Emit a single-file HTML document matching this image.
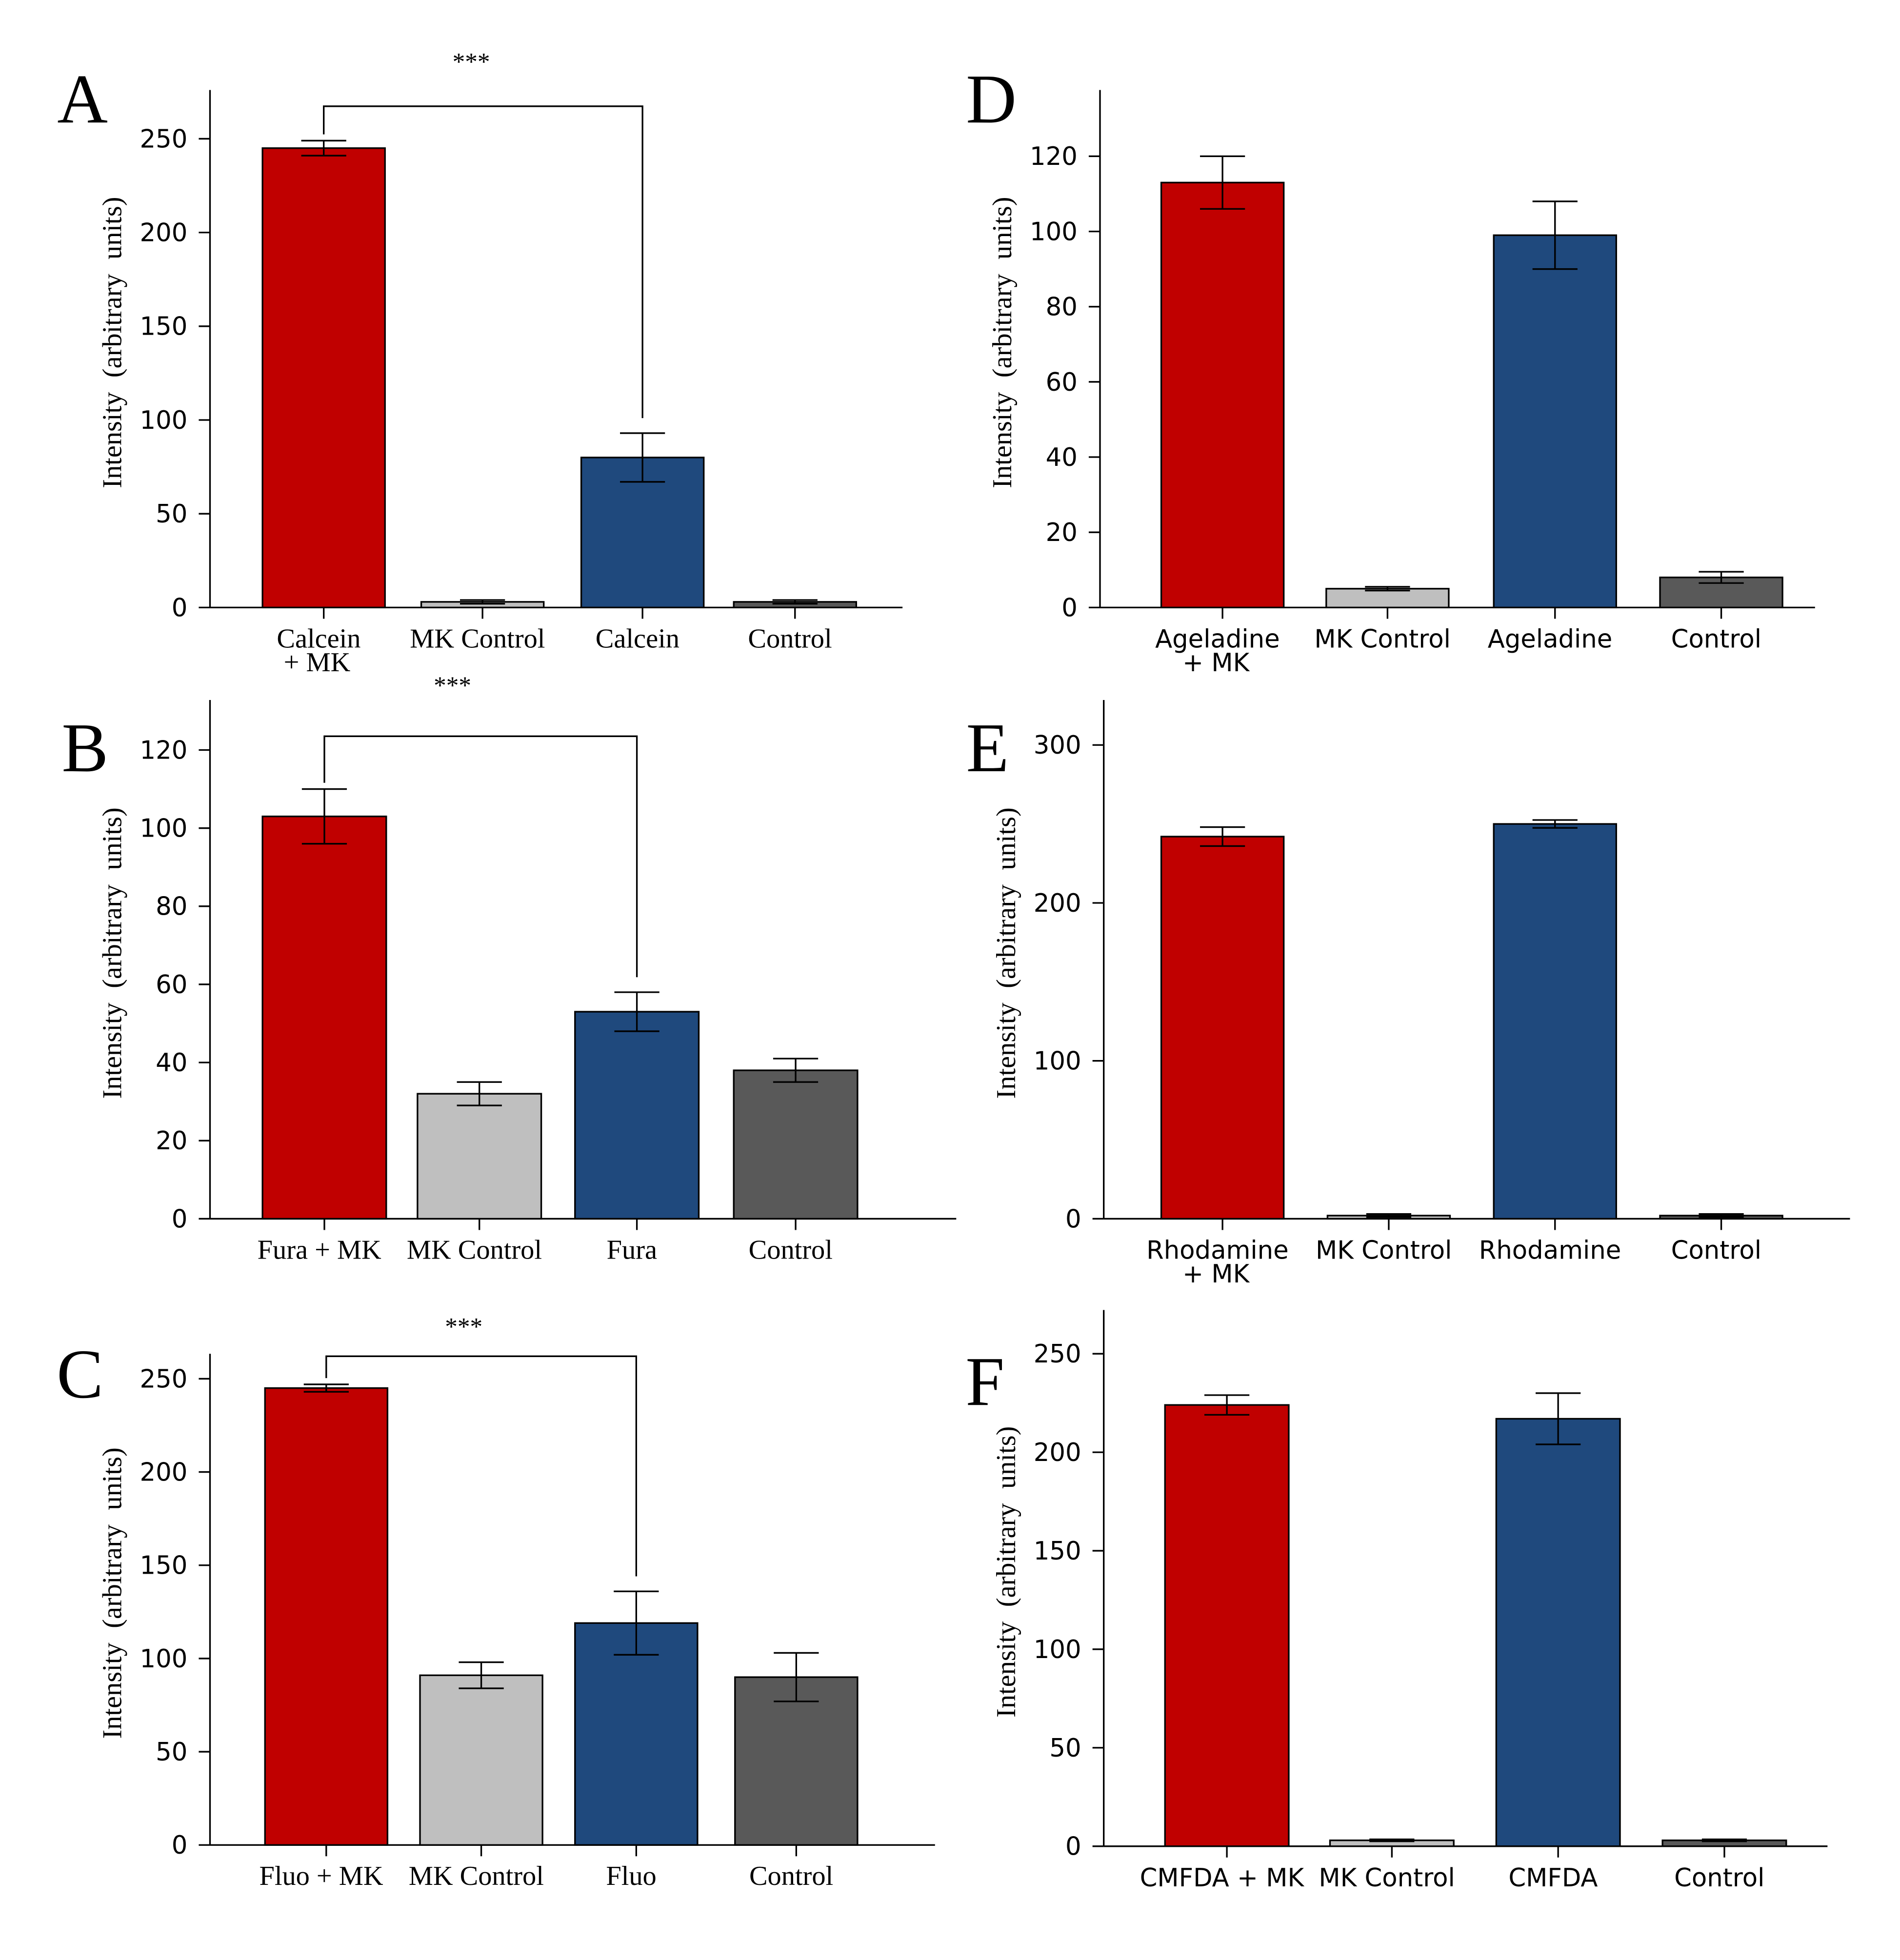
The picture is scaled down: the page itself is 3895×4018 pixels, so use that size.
<!DOCTYPE html>
<html><head><meta charset="utf-8"><style>
html,body{margin:0;padding:0;background:#fff}
svg{display:block}
</style></head><body>
<svg id="fig" width="3895" height="4018" viewBox="0 0 1520 1568" xmlns="http://www.w3.org/2000/svg"></svg>
<script>
// ---- data ----
const catsA = ["Calcein|+ MK","MK Control","Calcein","Control"];
const valsA = [245, 3, 80, 3];
const errA = [4, 1, 13, 1];
const ticksA = [0,50,100,150,200,250];

const catsB = ["Fura + MK","MK Control","Fura","Control"];
const valsB = [103, 32, 53, 38];
const errB = [7, 3, 5, 3];
const ticksB = [0,20,40,60,80,100,120];

const catsC = ["Fluo + MK","MK Control","Fluo","Control"];
const valsC = [245, 91, 119, 90];
const errC = [2, 7, 17, 13];
const ticksC = [0,50,100,150,200,250];

const catsD = ["Ageladine|+ MK","MK Control","Ageladine","Control"];
const valsD = [113, 5, 99, 8];
const errD = [7, 0.5, 9, 1.5];
const ticksD = [0,20,40,60,80,100,120];

const catsE = ["Rhodamine|+ MK","MK Control","Rhodamine","Control"];
const valsE = [242, 2, 250, 2];
const errE = [6, 1, 2.5, 1];
const ticksE = [0,100,200,300];

const catsF = ["CMFDA + MK","MK Control","CMFDA","Control"];
const valsF = [224, 3, 217, 3];
const errF = [5, 0.5, 13, 0.5];
const ticksF = [0,50,100,150,200,250];

const colors = ["#c00000","#bfbfbf","#1f497d","#595959"];
const NS = "http://www.w3.org/2000/svg";
const svg = document.getElementById('fig');

function mk(tag, attrs, parent){
  const e = document.createElementNS(NS, tag);
  for (const k in attrs) e.setAttribute(k, attrs[k]);
  (parent||svg).appendChild(e);
  return e;
}

function panel(p){
  const g = mk('g', {});
  
  
  const y = v => p.y0 - v * (p.y0 - p.yTop) / p.tTop;
  const font = p.serif ? '"Liberation Serif", serif' : '"DejaVu Sans", "Liberation Sans", sans-serif';
  const fsize = p.serif ? 22 : 20;
  const ya = mk('line', {x1:p.ax, y1:p.axTop, x2:p.ax, y2:p.y0, stroke:'#000','stroke-width':1.3}, g);
  
  
  const xa = mk('line', {x1:p.ax, y1:p.y0, x2:p.axRight, y2:p.y0, stroke:'#000','stroke-width':1.3}, g);
  
  
  p.ticks.forEach(t => {
    mk('line', {x1:p.ax-9, y1:y(t), x2:p.ax, y2:y(t), stroke:'#000','stroke-width':1.3}, g);
    const tx = mk('text', {x:p.ax-18, y:y(t)+7, 'text-anchor':'end', 'font-size':20, 'font-family':'"DejaVu Sans","Liberation Sans",sans-serif', fill:'#000'}, g);
    tx.textContent = t;
    
    
  });
  const yl = mk('text', {x:0, y:0, transform:`translate(${p.ax-71},${(p.axTop+p.y0)/2-5}) rotate(-90)`, 'text-anchor':'middle', 'font-size':22, 'word-spacing':6, 'font-family':'"Liberation Serif",serif', fill:'#000', 'xml:space':'preserve'}, g);
  yl.textContent = 'Intensity (arbitrary units)';
  
  
  const lt = mk('text', {x:p.lx, y:p.ly, 'text-anchor':'middle', 'font-size':56, 'font-family':'"Liberation Serif",serif', fill:'#000'}, g);
  lt.textContent = p.letter;
  
  
  const centers = [];
  p.cats.forEach((c,i) => {
    const x = p.barX[i], w = p.barW;
    const cx = x + w/2; centers.push(cx);
    const v = p.vals[i];
    const r = mk('rect', {x:x, y:y(v), width:w, height:p.y0-y(v), fill:colors[i], stroke:'#000','stroke-width':1.3}, g);
    
    
    const e = p.errs[i];
    const eg = mk('g', {stroke:'#000','stroke-width':1.3}, g);
    
    
    mk('line', {x1:cx, y1:y(v+e), x2:cx, y2:y(v-e)}, eg);
    mk('line', {x1:cx-18, y1:y(v+e), x2:cx+18, y2:y(v+e)}, eg);
    mk('line', {x1:cx-18, y1:y(v-e), x2:cx+18, y2:y(v-e)}, eg);
    mk('line', {x1:cx, y1:p.y0, x2:cx, y2:p.y0+9, stroke:'#000','stroke-width':1.3}, g);
    const parts = c.split('|');
    parts.forEach((pt,j) => {
      const t = mk('text', {x:j? cx-32 : cx-4, y:p.y0+32+j*19, 'text-anchor':j?'start':'middle', 'font-size':fsize, 'font-family':font, fill:'#000', 'xml:space':'preserve'}, g);
      t.textContent = pt;
      
      
    });
  });
  if (p.bracket) {
    const b = p.bracket;
    const x0 = centers[0], x1 = centers[2];
    const bg = mk('path', {d:`M${x0},${y(p.vals[0]+p.errs[0])-5} V${b.y} H${x1} V${y(p.vals[2]+p.errs[2])-12}`, fill:'none', stroke:'#000','stroke-width':1.3}, g);
    
    
    const st = mk('text', {x:b.sx, y:b.sy, 'text-anchor':'middle', 'font-size':20, 'font-family':'"Liberation Serif",serif', fill:'#000'}, g);
    st.textContent = '***';
    
    
  }
}

panel({letter:'A', cats:catsA, vals:valsA, errs:errA, ticks:ticksA, serif:true,
  ax:168, axTop:72, y0:486, yTop:111, tTop:250, axRight:722, barX:[210,337,465,587], barW:98,
  lx:66, ly:98, bracket:{y:85, sx:377, sy:56}});
panel({letter:'B', cats:catsB, vals:valsB, errs:errB, ticks:ticksB, serif:true,
  ax:168, axTop:560, y0:975, yTop:600, tTop:120, axRight:765, barX:[210,334,460,587], barW:99,
  lx:68, ly:617, bracket:{y:589, sx:362, sy:555}});
panel({letter:'C', cats:catsC, vals:valsC, errs:errC, ticks:ticksC, serif:true,
  ax:168, axTop:1083, y0:1476, yTop:1103, tTop:250, axRight:748, barX:[212,336,460,588], barW:98,
  lx:64, ly:1118, bracket:{y:1085, sx:371, sy:1068}});
panel({letter:'D', cats:catsD, vals:valsD, errs:errD, ticks:ticksD, serif:false,
  ax:880, axTop:72, y0:486, yTop:125, tTop:120, axRight:1452, barX:[929,1061,1195,1328], barW:98,
  lx:793, ly:98});
panel({letter:'E', cats:catsE, vals:valsE, errs:errE, ticks:ticksE, serif:false,
  ax:883, axTop:560, y0:975, yTop:596, tTop:300, axRight:1480, barX:[929,1062,1195,1328], barW:98,
  lx:790, ly:617});
panel({letter:'F', cats:catsF, vals:valsF, errs:errF, ticks:ticksF, serif:false,
  ax:883, axTop:1048, y0:1477, yTop:1083, tTop:250, axRight:1462, barX:[932,1064,1197,1330], barW:99,
  lx:788, ly:1124});
</script>
</body></html>
